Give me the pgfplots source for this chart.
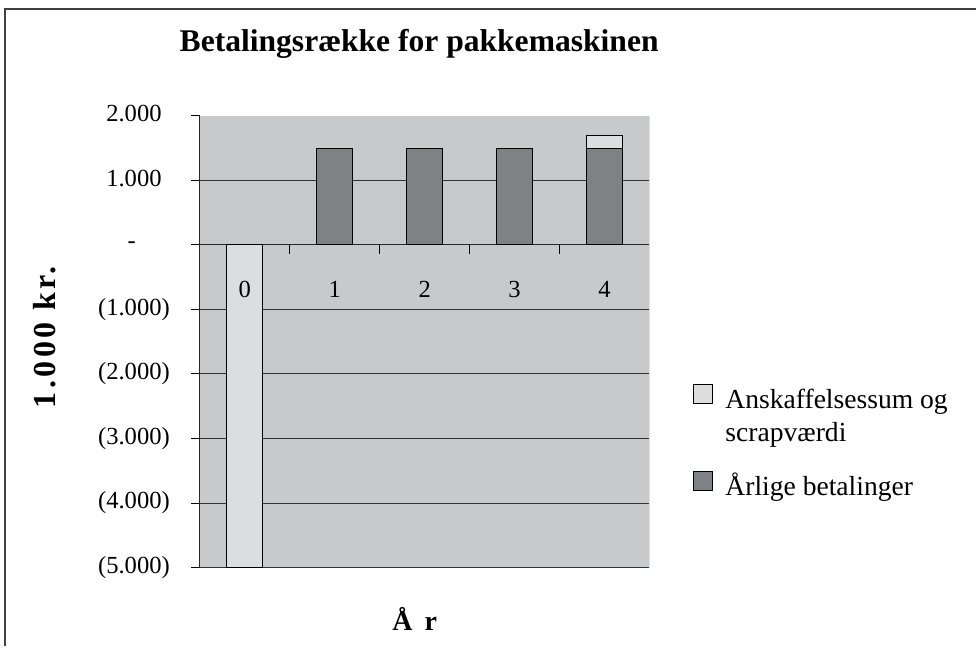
\documentclass[border=0pt]{standalone}
\usepackage{fontspec}
\setmainfont{Liberation Serif}
\usepackage{pgfplots}
\pgfplotsset{compat=1.18}
\definecolor{plotbg}{RGB}{200,201,203}
\definecolor{lightbar}{RGB}{220,221,223}
\definecolor{darkbar}{RGB}{128,129,132}
\pgfplotsset{
  sqlegend/.style={legend image code/.code={%
    \draw[##1, line width=0.5pt] (0pt,2.5pt) rectangle (9.5pt,12pt);
    \path (15.5pt,0pt);}},
}
\begin{document}
\begin{tikzpicture}
\path (0,0) rectangle (488.5pt,323.5pt);
\draw[line width=0.8pt, black!75] (2.5pt,0) -- (2.5pt,319pt) -- (488.5pt,319pt);
\begin{axis}[
  at={(100pt,39.5pt)}, anchor=south west,
  scale only axis, width=225pt, height=226pt,
  xmin=-0.5, xmax=4.5, ymin=-5000, ymax=2000,
  ybar stacked, bar width=0.4,
  axis x line*=middle, axis y line*=left,
  hide obscured x ticks=false, hide obscured y ticks=false,
  axis line style={black!85, line width=0.5pt},
  axis background/.style={fill=plotbg},
  ytick={-5000,-4000,-3000,-2000,-1000,0,1000},
  yticklabels={(5.000),(4.000),(3.000),(2.000),(1.000),{-\rule{17pt}{0pt}},{1.000\phantom{)}}},
  extra y ticks={2000}, extra y tick labels={{2.000\phantom{)}}},
  extra y tick style={grid=none},
  ymajorgrids, major grid style={line width=0.5pt, black!80},
  xtick={0.5,1.5,2.5,3.5}, xticklabels={},
  tick align=outside, major tick length=4.5pt,
  tick style={black, line width=0.5pt},
  yticklabel style={xshift=-7pt},
  tick label style={font=\fontsize{12.3}{14}\selectfont},
  title={Betalingsrække for pakkemaskinen},
  title style={at={(0.4878,1.117)}, anchor=base, font=\bfseries\fontsize{15.8}{18}\selectfont},
  ylabel={1.000 kr.},
  ylabel style={at={(-0.3444,0.51)}, anchor=center, font=\bfseries\fontsize{16}{18}\selectfont\addfontfeature{LetterSpace=11}},
  xlabel={Å\hspace{6pt}r},
  xlabel style={at={(0.4778,-0.1128)}, anchor=center, font=\bfseries\fontsize{14}{16}\selectfont},
  reverse legend,
  legend style={at={(1.0978,0.407)}, anchor=north west, draw=none, fill=none,
    inner sep=0pt, outer sep=0pt, row sep=28.5pt, column sep=0pt,
    nodes={inner sep=0pt, text height=12pt, text depth=3pt, anchor=base west,
      font=\fontsize{13.8}{16.5}\selectfont}},
]
\addplot[fill=darkbar, draw=black, line width=0.5pt, sqlegend]
  coordinates {(0,0) (1,1500) (2,1500) (3,1500) (4,1500)};
\addlegendentry{Årlige betalinger}
\addplot[fill=lightbar, draw=black, line width=0.5pt, sqlegend]
  coordinates {(0,-5000) (1,0) (2,0) (3,0) (4,200)};
\addlegendentry{\begin{tabular}[t]{@{}l@{}}Anskaffelsessum og\\scrapværdi\end{tabular}}
\draw[black!35, line width=0.5pt] (rel axis cs:1,0) -- (rel axis cs:1,1);
\end{axis}
% overlay axis: category labels drawn on top of the bars
\begin{axis}[
  at={(100pt,39.5pt)}, anchor=south west,
  scale only axis, width=225pt, height=226pt,
  xmin=-0.5, xmax=4.5, ymin=-5000, ymax=2000,
  axis line style={draw=none},
  ytick=\empty,
  xtick={0,1,2,3,4}, xticklabels={0,1,2,3,4},
  major tick length=0pt, tick style={draw=none},
  xticklabel style={anchor=base, yshift=135.2pt, font=\fontsize{12.3}{14}\selectfont},
]
\end{axis}
\end{tikzpicture}
\end{document}
